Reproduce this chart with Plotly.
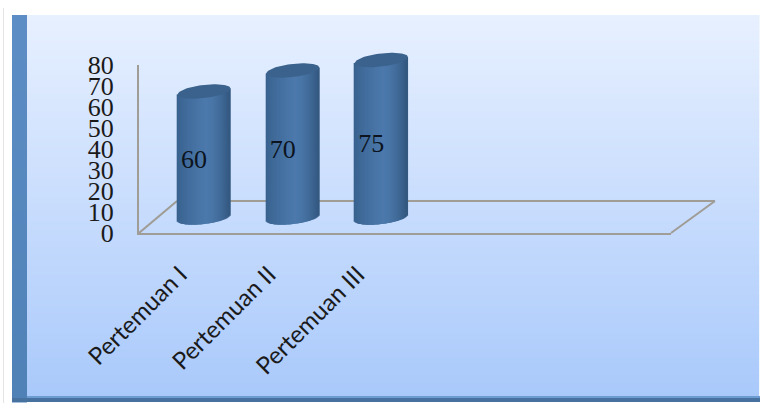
import numpy as np
import plotly.graph_objects as go

# Chart data
categories = ["Pertemuan I", "Pertemuan II", "Pertemuan III"]
values = [60, 70, 75]
y_ticks = [0, 10, 20, 30, 40, 50, 60, 70, 80]

W, H = 760, 403
SLOTS = 6                     # category slots on the floor, only the first three are filled
FRONT_L, FRONT_R = 139, 671   # front edge of the floor
Y0, Y80 = 233, 65             # pixel rows of 0 and 80 on the value axis
DEPTH_X, DEPTH_Y = 20.7, 15.5 # how far the cylinders sit behind the front plane
PX_PER_UNIT = (Y0 - Y80) / 80
PX_PER_SLOT = (FRONT_R - FRONT_L) / SLOTS
RADIUS_X, RADIUS_Y, TILT = 26.5, 6.6, 3.0
STEP = 1.0


def hexmix(c1, c2, t):
    a = np.array([int(c1[i:i + 2], 16) for i in (1, 3, 5)])
    b = np.array([int(c2[i:i + 2], 16) for i in (1, 3, 5)])
    r = np.round(a + (b - a) * t).astype(int)
    return f"rgb({r[0]},{r[1]},{r[2]})"


def rect(x0, y0, x1, y1, color):
    return dict(type="rect", xref="paper", yref="paper", layer="below",
                x0=x0 / W, x1=x1 / W, y0=1 - y0 / H, y1=1 - y1 / H,
                fillcolor=color, line=dict(width=0))


def floor_line(x0, y0, x1, y1):
    return dict(type="line", xref="paper", yref="paper", layer="below",
                x0=x0 / W, x1=x1 / W, y0=1 - y0 / H, y1=1 - y1 / H,
                line=dict(color="#a09c96", width=2))


def shade(u):
    # Horizontal lighting across a cylinder, u runs from -1 to 1
    if u < 0.1:
        t = (u + 1) / 1.1
        return hexmix("#37608c", "#4c79ac", t ** 0.7)
    t = (u - 0.1) / 0.9
    return hexmix("#4c79ac", "#335880", t ** 1.6)


# Panel: vertical gradient, left band, bottom band, thin outer rule
shapes = [rect(3, 8, 4, 403, "#e4e4e4")]
for y in range(15, 396, 2):
    t = (y - 15) / 381
    shapes.append(rect(27, y, 760, y + 2.5, hexmix("#e7f0ff", "#a9c9fb", t)))
for y in range(15, 402, 3):
    t = (y - 15) / 387
    shapes.append(rect(12, y, 27, y + 3.5, hexmix("#5c8dc4", "#4f80b6", t)))
shapes.append(rect(27, 396, 760, 398, "#6c9cd2"))
shapes.append(rect(12, 398, 760, 402, "#47729f"))
shapes.append(rect(759, 15, 760, 396, "#f2f6fd"))

# Floor outline behind the cylinders
shapes += [
    floor_line(FRONT_L, Y0, FRONT_L + 38, Y0 - 32),
    floor_line(FRONT_L + 38, Y0 - 32, FRONT_R + 44, Y0 - 32),
    floor_line(FRONT_R + 44, Y0 - 32, FRONT_R, Y0),
]

# Cylinder bodies as narrow vertical slices, caps as filled ellipses
offsets = np.arange(-RADIUS_X + STEP / 2, RADIUS_X, STEP)
sx, sy, sb, sc = [], [], [], []
for i, v in enumerate(values):
    for dx in offsets:
        u = dx / RADIUS_X
        lift = TILT * u / PX_PER_UNIT
        low = (-RADIUS_Y * np.sqrt(1 - u ** 2)) / PX_PER_UNIT + lift
        sx.append(i + dx / PX_PER_SLOT)
        sb.append(low)
        sy.append(v + lift - low)
        sc.append(shade(u))

traces = [
    go.Scatter(x=[None], y=[None], xaxis="x", yaxis="y", showlegend=False, hoverinfo="skip"),
    go.Bar(x=sx, y=sy, base=sb, width=1.4 / PX_PER_SLOT, xaxis="x2", yaxis="y2",
           marker=dict(color=sc, line=dict(width=0)), showlegend=False, hoverinfo="skip"),
]
theta = np.linspace(0, 2 * np.pi, 80)
for i, v in enumerate(values):
    traces.append(go.Scatter(
        x=i + RADIUS_X * np.cos(theta) / PX_PER_SLOT,
        y=v + (RADIUS_Y * np.sin(theta) + TILT * np.cos(theta)) / PX_PER_UNIT,
        xaxis="x2", yaxis="y2", mode="lines", fill="toself", fillcolor="#3b628c",
        line=dict(width=0), showlegend=False, hoverinfo="skip"))

# Value labels on the cylinder fronts
traces.append(go.Scatter(
    x=[i - 10 / PX_PER_SLOT for i in range(len(values))],
    y=[v / 2 - 7 / PX_PER_UNIT for v in values],
    text=[str(v) for v in values],
    xaxis="x2", yaxis="y2", mode="text", textposition="middle center",
    textfont=dict(family="Liberation Serif", size=26, color="#0c1420"),
    showlegend=False, hoverinfo="skip"))

slot_range = [-0.5, SLOTS - 0.5]
pad_low, pad_high = -10, 90

fig = go.Figure(traces)
fig.update_layout(
    template="none",
    width=W, height=H, autosize=False,
    margin=dict(l=0, r=0, t=0, b=0, pad=0),
    paper_bgcolor="white", plot_bgcolor="rgba(0,0,0,0)",
    shapes=shapes, barmode="overlay", showlegend=False,
    xaxis=dict(
        domain=[FRONT_L / W, FRONT_R / W], range=slot_range, anchor="y", automargin=False,
        tickmode="array", tickvals=list(range(len(categories))), ticktext=categories,
        tickangle=-45, ticks="outside", ticklen=16, tickcolor="rgba(0,0,0,0)",
        ticklabelshift=-3,
        showgrid=False, zeroline=False, showline=True, linecolor="#a09c96", linewidth=2,
        tickfont=dict(family="Lato", size=24, color="#1a1a1a"),
    ),
    yaxis=dict(
        domain=[1 - Y0 / H, 1 - Y80 / H], range=[0, 80], anchor="x", automargin=False,
        tickmode="array", tickvals=y_ticks, ticks="outside", ticklen=18,
        tickcolor="rgba(0,0,0,0)", showgrid=False, zeroline=False,
        showline=True, linecolor="#a09c96", linewidth=2,
        tickfont=dict(family="Liberation Serif", size=26, color="#1a1a1a"),
    ),
    xaxis2=dict(
        domain=[(FRONT_L + DEPTH_X) / W, (FRONT_R + DEPTH_X) / W], range=slot_range,
        anchor="y2", visible=False, automargin=False,
    ),
    yaxis2=dict(
        domain=[1 - (Y0 - DEPTH_Y - pad_low * PX_PER_UNIT) / H,
                1 - (Y0 - DEPTH_Y - pad_high * PX_PER_UNIT) / H],
        range=[pad_low, pad_high], anchor="x2", visible=False, automargin=False,
    ),
)

fig.write_html("out.html", config=dict(displayModeBar=False))
